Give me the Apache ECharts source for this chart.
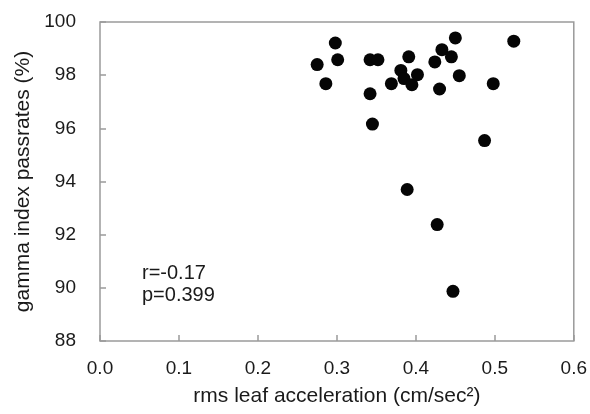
<!DOCTYPE html>
<html><head><meta charset="utf-8">
<script src="https://cdn.jsdelivr.net/npm/echarts@6/dist/echarts.min.js"></script>
<style>html,body{margin:0;padding:0;background:#fff}#c{width:590px;height:414px}</style>
</head><body><div id="c"></div>
<script>
const xValues = [0.275,0.298,0.301,0.286,0.342,0.352,0.342,0.345,0.369,0.381,0.391,0.385,0.395,0.402,0.424,0.430,0.433,0.445,0.450,0.455,0.498,0.524,0.487,0.389,0.427,0.447];
const yValues = [98.40,99.21,98.58,97.68,98.58,98.58,97.30,96.16,97.68,98.18,98.69,97.87,97.64,98.02,98.50,97.48,98.96,98.69,99.40,97.98,97.68,99.28,95.54,93.70,92.38,89.87];
const xTicks = [0.0,0.1,0.2,0.3,0.4,0.5,0.6];
const yTicks = [88,90,92,94,96,98,100];
const statsText = ['r=-0.17','p=0.399'];

const points = xValues.map((x,i)=>[x,yValues[i]]);
const chart = echarts.init(document.getElementById('c'));
const font = 'Liberation Sans, Arial, sans-serif';
chart.setOption({
  animation:false,
  backgroundColor:'#fff',
  grid:{left:100,right:15,top:22,bottom:73,show:true,borderColor:'#9a9a9a',borderWidth:1.5,backgroundColor:'transparent'},
  xAxis:{type:'value',min:xTicks[0],max:xTicks[xTicks.length-1],interval:0.1,
    name:'rms leaf acceleration (cm/sec²)',nameLocation:'middle',nameGap:45,
    nameTextStyle:{fontFamily:font,fontSize:21,color:'#1a1a1a'},
    axisLine:{show:false},splitLine:{show:false},
    axisTick:{show:true,inside:true,length:6,lineStyle:{color:'#9a9a9a',width:1.5}},
    axisLabel:{fontFamily:font,fontSize:19,color:'#1a1a1a',margin:18,formatter:v=>v.toFixed(1)}},
  yAxis:{type:'value',min:yTicks[0],max:yTicks[yTicks.length-1],interval:2,
    name:'gamma index passrates (%)',nameLocation:'middle',nameGap:61,nameRotate:90,
    nameTextStyle:{fontFamily:font,fontSize:21,color:'#1a1a1a'},
    axisLine:{show:false},splitLine:{show:false},
    axisTick:{show:true,inside:true,length:6,lineStyle:{color:'#9a9a9a',width:1.5}},
    axisLabel:{fontFamily:font,fontSize:19,color:'#1a1a1a',margin:24}},
  series:[{type:'scatter',data:points,symbol:'circle',symbolSize:13,
    itemStyle:{color:'#050505',opacity:1}}],
  graphic:[
    {type:'text',left:142,top:263,style:{text:statsText[0],font:'20px '+font,fill:'#1a1a1a'}},
    {type:'text',left:142,top:285,style:{text:statsText[1],font:'20px '+font,fill:'#1a1a1a'}}
  ]
});
</script></body></html>
